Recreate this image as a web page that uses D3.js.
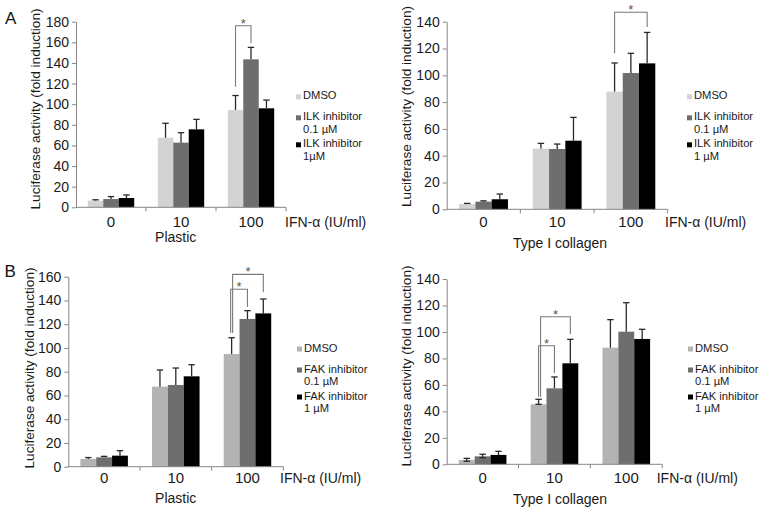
<!DOCTYPE html>
<html><head><meta charset="utf-8">
<script src="https://cdn.jsdelivr.net/npm/d3@7"></script>
<style>
body{margin:0;background:#fff}
svg{display:block}
text{font-family:"Liberation Sans",Arial,Helvetica,sans-serif}
</style>
</head><body>
<svg id="c" width="765" height="513"></svg>
<script>
// ---------- data ----------
const doses = ["0", "10", "100"];
const xUnit = "IFN-α (IU/ml)";
const yTitle = "Luciferase activity (fold induction)";
const yTicksA1 = [0, 20, 40, 60, 80, 100, 120, 140, 160, 180];
const yTicks140 = [0, 20, 40, 60, 80, 100, 120, 140];
const yTicksB1 = [0, 20, 40, 60, 80, 100, 120, 140, 160];

const ilkLegendPlastic = [["DMSO"], ["ILK inhibitor", "0.1 µM"], ["ILK inhibitor", "1µM"]];
const ilkLegendCollagen = [["DMSO"], ["ILK inhibitor", "0.1 µM"], ["ILK inhibitor", "1 µM"]];
const fakLegend = [["DMSO"], ["FAK inhibitor", "0.1 µM"], ["FAK inhibitor", "1 µM"]];

// [series][dose]  series: DMSO, 0.1 µM, 1 µM
const ilkPlasticMean = [[6.5, 67.5, 94.4], [8, 62.7, 143.5], [9, 75.6, 96]];
const ilkPlasticErr  = [[0.8, 14, 14], [2.4, 9.7, 11.6], [3, 9.7, 8]];
const ilkCollagenMean = [[4, 45.3, 87.8], [5.7, 45, 101.7], [7.5, 51.2, 108.9]];
const ilkCollagenErr  = [[0.4, 3.9, 21.4], [0.6, 3.7, 14.7], [3.9, 17.4, 23.1]];
const fakPlasticMean = [[6.5, 67.4, 94.9], [7.9, 68.8, 124.4], [9.3, 76.1, 129.1]];
const fakPlasticErr  = [[1.2, 14, 13.7], [0.8, 14.3, 7], [4.2, 9.8, 12.1]];
const fakCollagenMean = [[3.3, 45.3, 88.1], [6, 57.4, 100.2], [7.1, 76.3, 94.7]];
const fakCollagenErr  = [[1.2, 3.8, 21.2], [1.6, 8.6, 21.9], [2.7, 18.1, 7.3]];
const fakCollagenErrLow = [[1, 0, null], [1, null, null], [null, null, null]];

// significance brackets (values in fold induction)
const ilkPlasticSig = [{dose: 2, from: 0, to: 1, level: 176, fromEnd: 117, toEnd: 159}];
const ilkCollagenSig = [{dose: 2, from: 0, to: 2, level: 147, fromEnd: 116.4, toEnd: 136}];
const fakPlasticSig = [
  {dose: 2, from: 0, to: 1, level: 149.4, fromEnd: 112.6, toEnd: 134.7, off: -1},
  {dose: 2, from: 0, to: 2, level: 162, fromEnd: 112.6, toEnd: 147, off: 1}
];
const fakCollagenSig = [
  {dose: 1, from: 0, to: 1, level: 89.6, fromEnd: 51, toEnd: 69, off: 0},
  {dose: 1, from: 0, to: 2, level: 111.5, fromEnd: 51, toEnd: 98.4, off: 2}
];

// ---------- drawing ----------
const svg = d3.select("#c");
const colorsA = ["#d3d3d3", "#6e6e6e", "#000000"];
const colorsB = ["#b3b3b3", "#6e6e6e", "#000000"];
const axisColor = "#858585";

const panels = [
  {means: ilkPlasticMean, errs: ilkPlasticErr, sig: ilkPlasticSig, legend: ilkLegendPlastic, ticks: yTicksA1,
   colors: colorsA, x0: 76, x1: 286, y0: 207.3, y1: 21.7, ymax: 180, titleX: 39.5, titleY: 109,
   legX: 296, legY: 99.3, sub: "Plastic", subX: 175.7, subY: 241.5, ifnX: 285, catY: 227},
  {means: ilkCollagenMean, errs: ilkCollagenErr, sig: ilkCollagenSig, legend: ilkLegendCollagen, ticks: yTicks140,
   colors: colorsA, x0: 446.7, x1: 667.7, y0: 209.3, y1: 21.7, ymax: 140, titleX: 410.5, titleY: 106.5,
   legX: 687, legY: 99.3, sub: "Type I collagen", subX: 560, subY: 248, ifnX: 665, catY: 227},
  {means: fakPlasticMean, errs: fakPlasticErr, sig: fakPlasticSig, legend: fakLegend, ticks: yTicksB1,
   colors: colorsB, x0: 68.3, x1: 283.3, y0: 466.7, y1: 276.7, ymax: 160, titleX: 34, titleY: 368,
   legX: 297, legY: 351.5, sub: "Plastic", subX: 175.7, subY: 503, ifnX: 280, catY: 483.3},
  {means: fakCollagenMean, errs: fakCollagenErr, errLow: fakCollagenErrLow, sig: fakCollagenSig, legend: fakLegend, ticks: yTicks140,
   colors: colorsB, x0: 446.7, x1: 662.2, y0: 464.3, y1: 279, ymax: 140, titleX: 410.5, titleY: 366,
   legX: 688, legY: 351.5, sub: "Type I collagen", subX: 560, subY: 504, ifnX: 656.7, catY: 483.3}
];

function drawPanel(cfg) {
  const g = svg.append("g");
  const x = d3.scaleBand().domain(doses).range([cfg.x0, cfg.x1]);
  const y = d3.scaleLinear().domain([0, cfg.ymax]).range([cfg.y0, cfg.y1]);
  const bw = x.bandwidth();
  const barW = bw * 0.221;
  const inner = d3.scaleBand().domain([0, 1, 2]).range([(bw - 3 * barW) / 2, (bw + 3 * barW) / 2]);
  const cx = (s, d) => x(doses[d]) + inner(s) + inner.bandwidth() / 2;

  // bars
  cfg.means.forEach((arr, s) => {
    g.selectAll(null).data(arr).enter().append("rect")
      .attr("x", (v, d) => x(doses[d]) + inner(s))
      .attr("width", inner.bandwidth())
      .attr("y", v => y(v))
      .attr("height", v => y(0) - y(v))
      .attr("fill", cfg.colors[s]);
  });

  // error bars
  cfg.means.forEach((arr, s) => {
    arr.forEach((v, d) => {
      const top = v + cfg.errs[s][d];
      const cxx = cx(s, d);
      const col = "#2a2a2a";
      const lowE = cfg.errLow ? cfg.errLow[s][d] : null;
      const bottom = lowE == null ? v : v - lowE;
      g.append("line").attr("x1", cxx).attr("x2", cxx).attr("y1", y(bottom)).attr("y2", y(top))
        .attr("stroke", col).attr("stroke-width", 1.3);
      g.append("line").attr("x1", cxx - 3.2).attr("x2", cxx + 3.2).attr("y1", y(top)).attr("y2", y(top))
        .attr("stroke", col).attr("stroke-width", 1.3);
      if (lowE != null) {
        g.append("line").attr("x1", cxx - 3.2).attr("x2", cxx + 3.2).attr("y1", y(bottom)).attr("y2", y(bottom))
          .attr("stroke", col).attr("stroke-width", 1.3);
      }
    });
  });

  // significance brackets
  cfg.sig.forEach(b => {
    const xa = cx(b.from, b.dose) + (b.off || 0);
    const xb = cx(b.to, b.dose);
    const yl = y(b.level);
    g.append("path")
      .attr("d", `M${xa},${y(b.fromEnd)}V${yl}H${xb}V${y(b.toEnd)}`)
      .attr("fill", "none").attr("stroke", "#7a7a7a").attr("stroke-width", 1.1);
    g.append("text").attr("x", (xa + xb) / 2).attr("y", yl + 2)
      .attr("text-anchor", "middle").attr("font-size", 13).attr("fill", "#555").text("*");
  });

  // y axis
  const ya = g.append("g").attr("transform", `translate(${cfg.x0},0)`)
    .call(d3.axisLeft(y).tickValues(cfg.ticks).tickSize(4).tickSizeOuter(0).tickPadding(3));
  ya.select(".domain").attr("stroke", axisColor);
  ya.selectAll(".tick line").attr("stroke", axisColor);
  ya.selectAll(".tick text").attr("font-size", 14).attr("fill", "#1a1a1a")
    .attr("font-family", "'Liberation Sans', Arial, Helvetica, sans-serif");

  // x axis
  g.append("line").attr("x1", cfg.x0).attr("x2", cfg.x1).attr("y1", y(0)).attr("y2", y(0))
    .attr("stroke", axisColor).attr("stroke-width", 1);
  g.selectAll(null).data(doses).enter().append("line")
    .attr("x1", d => x(d) + bw).attr("x2", d => x(d) + bw)
    .attr("y1", y(0)).attr("y2", y(0) + 4)
    .attr("stroke", axisColor);
  g.selectAll(null).data(doses).enter().append("text")
    .attr("x", d => x(d) + bw / 2).attr("y", cfg.catY)
    .attr("text-anchor", "middle").attr("font-size", 15).attr("fill", "#1a1a1a").text(d => d);
  g.append("text").attr("x", cfg.ifnX).attr("y", cfg.catY).attr("font-size", 14).attr("fill", "#1a1a1a").text(xUnit);
  g.append("text").attr("x", cfg.subX).attr("y", cfg.subY).attr("text-anchor", "middle")
    .attr("font-size", 14).attr("fill", "#1a1a1a").text(cfg.sub);

  // y title
  g.append("text").attr("transform", `translate(${cfg.titleX},${cfg.titleY}) rotate(-90)`)
    .attr("text-anchor", "middle").attr("font-size", 13.6).attr("fill", "#1a1a1a").text(yTitle);

  // legend (multi-line entries as one text with tspans)
  const offs = [0, 21, 48];
  const lineGap = 12.6;
  cfg.legend.forEach((lines, s) => {
    const base = cfg.legY + offs[s];
    g.append("rect").attr("x", cfg.legX).attr("y", base - 5).attr("width", 5).attr("height", 5)
      .attr("fill", cfg.colors[s]);
    const t = g.append("text").attr("x", cfg.legX + 7).attr("y", base)
      .attr("font-size", 11.2).attr("fill", "#1a1a1a");
    lines.forEach((line, li) => {
      t.append("tspan").attr("x", cfg.legX + 7).attr("dy", li === 0 ? 0 : lineGap).text(line);
    });
  });
}

panels.forEach(drawPanel);

svg.append("text").attr("x", 5).attr("y", 24).attr("font-size", 17).attr("fill", "#111").text("A");
svg.append("text").attr("x", 4.5).attr("y", 277).attr("font-size", 17).attr("fill", "#111").text("B");
</script>
</body></html>
